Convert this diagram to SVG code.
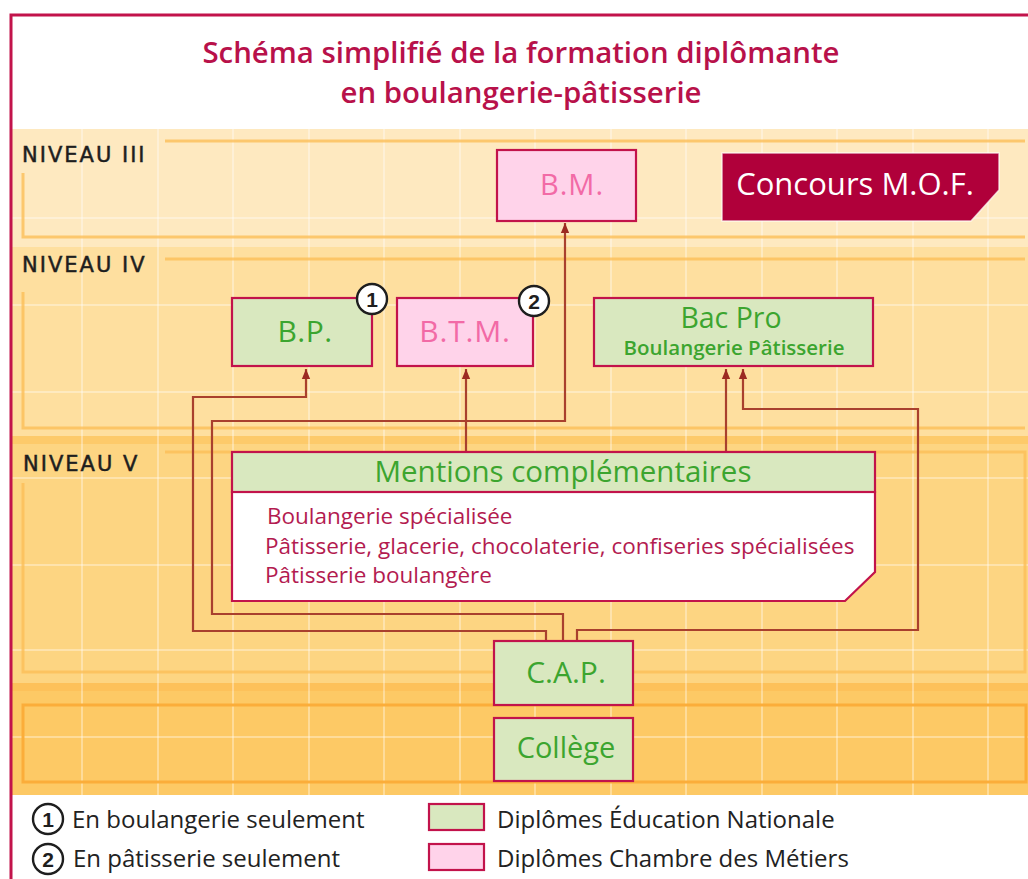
<svg xmlns="http://www.w3.org/2000/svg" width="1028" height="879" viewBox="0 0 1028 879">
<style>
.t{font-family:"Open Sans","Liberation Sans",sans-serif}
.title{font-size:29.4px;fill:#b8114a;text-anchor:middle;font-weight:600}
.lvl{font-family:"DejaVu Sans","Liberation Sans",sans-serif;font-size:21px;fill:#1e1e1e;stroke:#1e1e1e;stroke-width:0.5;letter-spacing:2px}
.gbox{fill:#d9e8bf;stroke:#c2134b;stroke-width:2.2}
.pbox{fill:#ffd3ea;stroke:#c2134b;stroke-width:2.2}
.gtxt{fill:#3ca52f;text-anchor:middle}
.ptxt{fill:#f26aa6;text-anchor:middle}
.body{font-size:22.5px;fill:#b31b50}
.leg{font-size:24px;fill:#222}
.frame{fill:none;stroke:#fbbe58;stroke-width:3;stroke-opacity:.8}
.grid{stroke:#ffffff;stroke-width:2;stroke-opacity:.35}
.conn{fill:none;stroke:#a9402e;stroke-width:2.2}
.circ{fill:#fff;stroke:#1e1e1e;stroke-width:2.4}
.num{font-family:"Liberation Sans",sans-serif;font-weight:bold;font-size:21px;fill:#1e1e1e;text-anchor:middle}
</style>
<defs>
<marker id="arr" markerUnits="userSpaceOnUse" markerWidth="10" markerHeight="12" refX="12" refY="5" orient="auto" viewBox="0 0 12 10">
<path d="M0,0 L12,5 L0,10 z" fill="#9c2a22"/>
</marker>
</defs>
<rect x="0" y="0" width="1028" height="879" fill="#ffffff"/>
<g id="bands">
<rect x="11" y="129" width="1017" height="118" fill="#fee9c0"/>
<rect x="11" y="247" width="1017" height="190" fill="#fedf9f"/>
<rect x="11" y="437" width="1017" height="253" fill="#fdd582"/>
<rect x="11" y="690" width="1017" height="105" fill="#fdc965"/>
<rect x="11" y="436" width="1017" height="8" fill="#fdca6a"/>
<rect x="11" y="683" width="1017" height="8" fill="#fdc15a"/>
<g class="grid">
<line x1="82" y1="129" x2="82" y2="795"/><line x1="158" y1="129" x2="158" y2="795"/><line x1="233" y1="129" x2="233" y2="795"/><line x1="309" y1="129" x2="309" y2="795"/><line x1="384" y1="129" x2="384" y2="795"/><line x1="460" y1="129" x2="460" y2="795"/><line x1="535" y1="129" x2="535" y2="795"/><line x1="611" y1="129" x2="611" y2="795"/><line x1="686" y1="129" x2="686" y2="795"/><line x1="762" y1="129" x2="762" y2="795"/><line x1="837" y1="129" x2="837" y2="795"/><line x1="913" y1="129" x2="913" y2="795"/><line x1="988" y1="129" x2="988" y2="795"/>
<line x1="11" y1="218" x2="1028" y2="218"/><line x1="11" y1="305" x2="1028" y2="305"/><line x1="11" y1="392" x2="1028" y2="392"/><line x1="11" y1="478" x2="1028" y2="478"/><line x1="11" y1="565" x2="1028" y2="565"/><line x1="11" y1="650" x2="1028" y2="650"/><line x1="11" y1="737" x2="1028" y2="737"/>
</g>
<path class="frame" d="M165,141 H1025 M23,173 V237 H1025"/>
<path class="frame" d="M165,259 H1025 M23,292 V428 H1025"/>
<path class="frame" d="M165,452 H1025 V672 H23 V483"/>
<rect x="23" y="705" width="1003" height="77" fill="none" stroke="#fbad3a" stroke-width="3"/>
</g>
<rect x="11" y="15" width="1030" height="880" fill="none" stroke="#c2134b" stroke-width="3"/>
<g id="title" class="t">
<text class="title" x="521" y="63">Schéma simplifié de la formation diplômante</text>
<text class="title" x="521" y="103">en boulangerie-pâtisserie</text>
</g>
<g id="levels">
<text class="lvl" x="22" y="162">NIVEAU III</text>
<text class="lvl" x="22" y="272">NIVEAU IV</text>
<text class="lvl" x="23" y="471">NIVEAU V</text>
</g>
<g id="connectors">
<path class="conn" d="M546,641 V631 H193 V397 H306 V369" marker-end="url(#arr)"/>
<path class="conn" d="M563,641 V614 H212 V421 H565 V223" marker-end="url(#arr)"/>
<path class="conn" d="M577,641 V630 H918 V409 H743 V369" marker-end="url(#arr)"/>
<path class="conn" d="M466,452 V369" marker-end="url(#arr)"/>
<path class="conn" d="M726,452 V369" marker-end="url(#arr)"/>
</g>
<g id="node-bm" class="t">
<rect class="pbox" x="497" y="150" width="139" height="71"/>
<text class="ptxt" x="572" y="195" font-size="29" letter-spacing="1">B.M.</text>
</g>
<g id="node-mof" class="t">
<path d="M722,153 H999 V190 L971,221 H722 Z" fill="#b0003a" stroke="#ffffff" stroke-opacity=".7" stroke-width="1.5"/>
<text x="855" y="195" font-size="31" fill="#ffffff" text-anchor="middle">Concours M.O.F.</text>
</g>
<g id="node-bp" class="t">
<rect class="gbox" x="232" y="298" width="140" height="68"/>
<text class="gtxt" x="305" y="342" font-size="30" letter-spacing="0.5">B.P.</text>
<circle class="circ" cx="372" cy="299" r="15"/>
<text class="num" x="372" y="306.5">1</text>
</g>
<g id="node-btm" class="t">
<rect class="pbox" x="397" y="298" width="136" height="68"/>
<text class="ptxt" x="465" y="342" font-size="30" letter-spacing="0.8">B.T.M.</text>
<circle class="circ" cx="534" cy="301" r="15"/>
<text class="num" x="534" y="308.5">2</text>
</g>
<g id="node-bacpro" class="t">
<rect class="gbox" x="594" y="298" width="279" height="68"/>
<text class="gtxt" x="731" y="328" font-size="28.5">Bac Pro</text>
<text class="gtxt" x="734" y="355" font-size="20.5" font-weight="600">Boulangerie Pâtisserie</text>
</g>
<g id="node-mentions" class="t">
<path d="M232,492 H875 V572 L845,601 H232 Z" fill="#ffffff" stroke="#c2134b" stroke-width="2.2"/>
<rect class="gbox" x="232" y="452" width="643" height="40"/>
<text class="gtxt" x="563" y="482" font-size="29.5">Mentions complémentaires</text>
<text class="body" x="267" y="524">Boulangerie spécialisée</text>
<text class="body" x="265" y="554">Pâtisserie, glacerie, chocolaterie, confiseries spécialisées</text>
<text class="body" x="265" y="583">Pâtisserie boulangère</text>
</g>
<g id="node-cap" class="t">
<rect class="gbox" x="494" y="641" width="139" height="64"/>
<text class="gtxt" x="566" y="683" font-size="30">C.A.P.</text>
</g>
<g id="node-college" class="t">
<rect class="gbox" x="494" y="718" width="139" height="63"/>
<text class="gtxt" x="566" y="758" font-size="29">Collège</text>
</g>
<g id="legend" class="t">
<circle class="circ" cx="48" cy="819" r="15" stroke-width="1.8"/>
<text class="num" x="48" y="827" font-weight="normal">1</text>
<text class="leg" x="72" y="828">En boulangerie seulement</text>
<circle class="circ" cx="48" cy="859" r="15" stroke-width="1.8"/>
<text class="num" x="48" y="867" font-weight="normal">2</text>
<text class="leg" x="73" y="867">En pâtisserie seulement</text>
<rect class="gbox" x="429" y="804" width="55" height="26"/>
<rect class="pbox" x="429" y="844" width="55" height="26"/>
<text class="leg" x="497" y="828">Diplômes Éducation Nationale</text>
<text class="leg" x="497" y="867">Diplômes Chambre des Métiers</text>
</g>
</svg>
